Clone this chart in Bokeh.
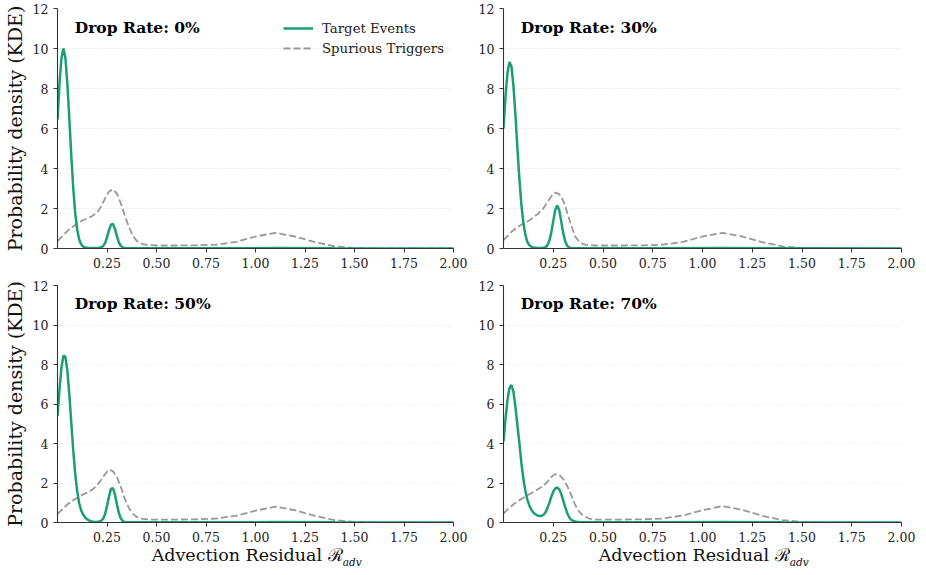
from bokeh.plotting import figure
from bokeh.layouts import gridplot
from bokeh.models import Range1d, FixedTicker, Label, LinearAxis
from bokeh.embed import file_html
from bokeh.resources import INLINE

# ---- data ----
DROP_RATES = ["0%", "30%", "50%", "70%"]

GREEN_X = [0.00, 0.01, 0.02, 0.03, 0.04, 0.05, 0.06, 0.07, 0.08, 0.09,
           0.10, 0.11, 0.12, 0.13, 0.14, 0.15, 0.16, 0.17, 0.18, 0.19,
           0.20, 0.21, 0.22, 0.23, 0.24, 0.25, 0.26, 0.27, 0.28, 0.29,
           0.30, 0.31, 0.32, 0.33, 0.34, 0.35, 0.36, 0.37, 0.38, 0.39,
           0.40, 0.41, 0.42, 0.43, 0.44, 0.50, 0.80, 1.10, 1.40, 2.00]

TARGET_0 = [6.44, 8.23, 9.52, 10.0, 9.52, 8.23, 6.44, 4.58, 2.95, 1.72,
            0.91, 0.44, 0.20, 0.09, 0.05, 0.04, 0.03, 0.03, 0.03, 0.03,
            0.03, 0.04, 0.06, 0.12, 0.27, 0.55, 0.92, 1.19, 1.23, 0.98,
            0.62, 0.30, 0.13, 0.05, 0.02, 0.01, 0.01, 0.01, 0.01, 0.01,
            0.01, 0.01, 0.01, 0.01, 0.01, 0.01, 0.01, 0.02, 0.01, 0.00]
TARGET_30 = [6.00, 7.58, 8.79, 9.33, 9.10, 8.13, 6.66, 5.00, 3.45, 2.18,
             1.27, 0.67, 0.33, 0.16, 0.08, 0.05, 0.04, 0.03, 0.03, 0.03,
             0.04, 0.06, 0.15, 0.37, 0.78, 1.37, 1.92, 2.15, 1.92, 1.37,
             0.77, 0.36, 0.14, 0.05, 0.02, 0.01, 0.01, 0.01, 0.01, 0.01,
             0.01, 0.01, 0.01, 0.01, 0.01, 0.01, 0.01, 0.02, 0.01, 0.00]
TARGET_50 = [5.40, 6.72, 7.85, 8.45, 8.38, 7.66, 6.45, 5.00, 3.60, 2.40,
             1.55, 0.95, 0.60, 0.40, 0.25, 0.16, 0.10, 0.06, 0.04, 0.03,
             0.03, 0.05, 0.08, 0.18, 0.42, 0.83, 1.32, 1.70, 1.74, 1.42,
             0.92, 0.48, 0.20, 0.07, 0.03, 0.01, 0.01, 0.01, 0.01, 0.01,
             0.01, 0.01, 0.01, 0.01, 0.01, 0.01, 0.01, 0.02, 0.01, 0.00]
TARGET_70 = [4.11, 5.24, 6.19, 6.81, 6.96, 6.61, 5.84, 4.90, 4.00, 3.00,
             2.20, 1.60, 1.15, 0.85, 0.65, 0.50, 0.42, 0.36, 0.33, 0.33,
             0.38, 0.50, 0.70, 0.98, 1.30, 1.56, 1.73, 1.77, 1.68, 1.45,
             1.12, 0.78, 0.48, 0.27, 0.14, 0.08, 0.05, 0.03, 0.02, 0.01,
             0.01, 0.01, 0.01, 0.01, 0.01, 0.01, 0.01, 0.03, 0.01, 0.00]

GRAY_X = [0.00, 0.025, 0.05, 0.075, 0.10, 0.125, 0.15, 0.175, 0.20,
          0.22, 0.24, 0.26, 0.28, 0.30, 0.32, 0.34, 0.36, 0.38, 0.40,
          0.43, 0.46, 0.50, 0.60, 0.70, 0.80, 0.90, 1.00, 1.10, 1.20,
          1.30, 1.40, 1.50, 1.60, 1.80, 2.00]

SPURIOUS_0 = [0.37, 0.62, 0.88, 1.08, 1.25, 1.40, 1.50, 1.62, 1.80,
              2.10, 2.50, 2.85, 2.95, 2.75, 2.25, 1.65, 1.10, 0.65, 0.38,
              0.22, 0.17, 0.15, 0.15, 0.16, 0.19, 0.33, 0.60, 0.78, 0.60,
              0.32, 0.11, 0.02, 0.01, 0.00, 0.00]
SPURIOUS_30 = [0.42, 0.68, 0.92, 1.10, 1.25, 1.38, 1.55, 1.75, 2.00,
               2.30, 2.60, 2.80, 2.72, 2.40, 1.80, 1.15, 0.60, 0.35, 0.22,
               0.16, 0.15, 0.15, 0.15, 0.16, 0.19, 0.33, 0.60, 0.78, 0.60,
               0.32, 0.11, 0.02, 0.01, 0.00, 0.00]
SPURIOUS_50 = [0.43, 0.68, 0.92, 1.10, 1.25, 1.40, 1.52, 1.65, 1.88,
               2.15, 2.45, 2.67, 2.60, 2.30, 1.80, 1.20, 0.75, 0.45, 0.28,
               0.18, 0.15, 0.15, 0.15, 0.16, 0.20, 0.34, 0.60, 0.80, 0.62,
               0.33, 0.12, 0.03, 0.01, 0.00, 0.00]
SPURIOUS_70 = [0.45, 0.70, 0.92, 1.10, 1.25, 1.40, 1.55, 1.70, 1.85,
               2.05, 2.30, 2.45, 2.42, 2.20, 1.85, 1.40, 0.90, 0.55, 0.35,
               0.20, 0.15, 0.14, 0.15, 0.16, 0.20, 0.35, 0.62, 0.83, 0.64,
               0.34, 0.12, 0.03, 0.01, 0.00, 0.00]

X_TICKS = [0.25, 0.50, 0.75, 1.00, 1.25, 1.50, 1.75, 2.00]
X_TICK_LABELS = ["0.25", "0.50", "0.75", "1.00", "1.25", "1.50", "1.75", "2.00"]
Y_TICKS = [0, 2, 4, 6, 8, 10, 12]

TARGETS = [TARGET_0, TARGET_30, TARGET_50, TARGET_70]
SPURIOUS = [SPURIOUS_0, SPURIOUS_30, SPURIOUS_50, SPURIOUS_70]

GREEN = "#1b9e77"
GRAY = "#999999"
FONT = "DejaVu Serif"
NBSP = "\u00a0"


def make_panel(i):
    row, col = divmod(i, 2)
    left = 55 if col == 0 else 36
    right = 14
    top = 8 if row == 0 else 13
    bottom = 24 if row == 0 else 50
    fw = 398
    height = 272 if row == 0 else 300
    p = figure(width=left + fw + right, height=height,
               x_range=Range1d(0, 2), y_range=Range1d(0, 12),
               output_backend="svg", toolbar_location=None,
               min_border_left=left, min_border_right=right,
               min_border_top=top, min_border_bottom=bottom)
    p.outline_line_color = None
    p.background_fill_color = "white"
    p.border_fill_color = "white"
    p.xgrid.grid_line_color = None
    p.ygrid.grid_line_color = "#dcdcdc"
    p.ygrid.grid_line_dash = "1 2"
    p.ygrid.grid_line_width = 0.9

    for ax in (p.xaxis[0], p.yaxis[0]):
        ax.axis_line_color = "#333333"
        ax.axis_line_width = 1.1
        ax.major_tick_line_color = "#333333"
        ax.major_tick_out = 4
        ax.major_tick_in = 0
        ax.minor_tick_line_color = None
        ax.major_label_text_font = FONT
        ax.major_label_text_font_size = "12.5px"
        ax.major_label_text_color = "#222222"
        ax.axis_label_text_font = FONT
        ax.axis_label_text_font_style = "normal"
        ax.axis_label_text_color = "#111111"
    p.yaxis.axis_label_text_font_size = "19px"
    p.xaxis.axis_label_text_font_size = "17.5px"
    p.xaxis.major_label_standoff = 5
    p.yaxis.major_label_standoff = 5
    p.xaxis.ticker = FixedTicker(ticks=X_TICKS)
    p.xaxis.major_label_overrides = {t: s for t, s in zip(X_TICKS, X_TICK_LABELS)}
    p.yaxis.ticker = FixedTicker(ticks=Y_TICKS)
    if col == 0:
        p.yaxis.axis_label = "Probability density (KDE)"
        p.yaxis.axis_label_standoff = 4

    kw_t = {}
    kw_s = {}
    if i == 0:
        kw_t = dict(legend_label="Target Events")
        kw_s = dict(legend_label="Spurious Triggers")
    p.line(GRAY_X, SPURIOUS[i], line_color=GRAY, line_width=1.8,
           line_dash="7 3", **kw_s)
    p.line(GREEN_X, TARGETS[i], line_color=GREEN, line_width=2.5, **kw_t)

    if i == 0:
        lg = p.legend[0]
        items = list(lg.items)
        lg.items = [items[1], items[0]]
        lg.location = (226, 190)
        lg.border_line_color = None
        lg.background_fill_alpha = 0
        lg.label_text_font = FONT
        lg.label_text_font_size = "13.3px"
        lg.label_text_color = "#222222"
        lg.glyph_width = 30
        lg.glyph_height = 20
        lg.label_height = 20
        lg.label_standoff = 9
        lg.spacing = 0
        lg.padding = 0
        lg.margin = 0

    p.add_layout(Label(x=0.087, y=11.55, text="Drop Rate: " + DROP_RATES[i],
                       text_font=FONT, text_font_size="15.5px",
                       text_font_style="bold", text_color="black",
                       text_baseline="top", text_align="left"))

    if row == 1:
        p.xaxis.axis_label = "Advection Residual \u211B" + NBSP * 3
        p.xaxis.axis_label_standoff = 0
        sub = LinearAxis(ticker=FixedTicker(ticks=[]),
                         axis_line_color=None,
                         major_tick_line_color=None,
                         minor_tick_line_color=None,
                         major_label_text_font_size="0px",
                         axis_label=NBSP * 58 + "adv",
                         axis_label_text_font=FONT,
                         axis_label_text_font_size="10.5px",
                         axis_label_text_font_style="italic",
                         axis_label_text_color="#111111",
                         axis_label_standoff=-12)
        p.add_layout(sub, "below")
    return p


panels = [make_panel(i) for i in range(4)]
grid = gridplot([[panels[0], panels[1]], [panels[2], panels[3]]],
                toolbar_location=None)

open("out.html", "w").write(file_html(grid, INLINE))
